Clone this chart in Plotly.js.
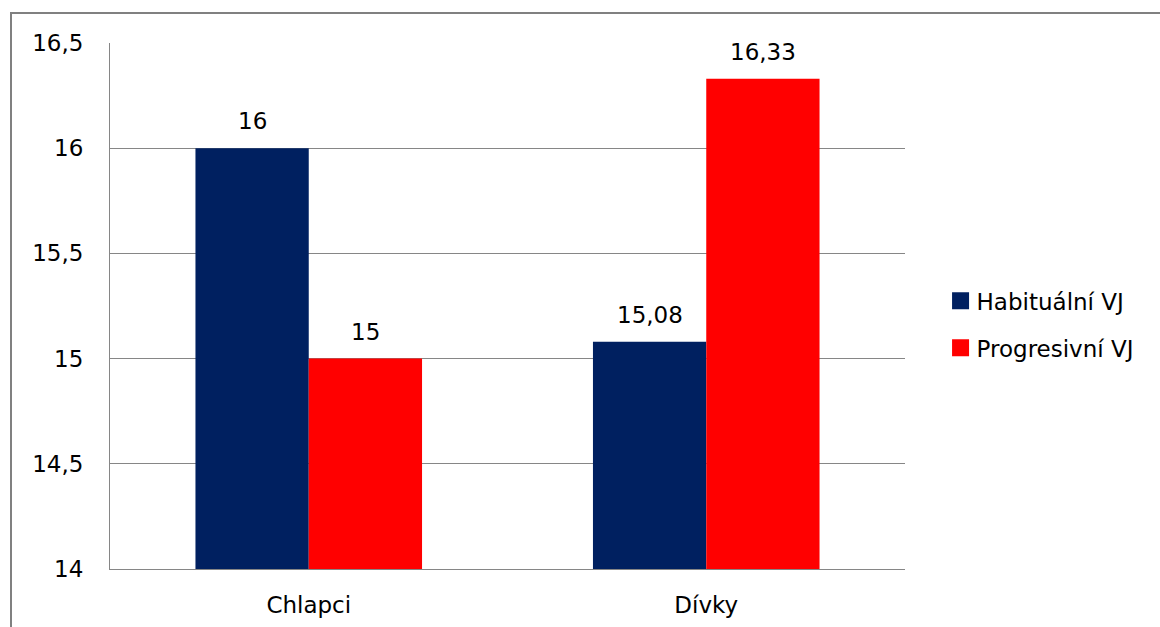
<!DOCTYPE html>
<html><head><meta charset="utf-8">
<script src="https://cdn.plot.ly/plotly-3.0.1.min.js"></script>
<style>
html,body{margin:0;padding:0;background:#fff;overflow:hidden;}
#wrap{position:relative;width:1160px;height:627px;overflow:hidden;}
#chart{position:absolute;left:0;top:0;width:1160px;height:627px;}
#frame{position:absolute;left:10px;top:12px;width:1200px;height:700px;border-top:2px solid #808080;border-left:2px solid #808080;pointer-events:none;}
</style></head>
<body><div id="wrap"><div id="chart"></div><div id="frame"></div></div>
<script>
const categories = ['Chlapci', 'Dívky'];
const seriesNames = ['Habituální VJ', 'Progresivní VJ'];
const habitualni = [16, 15.08];
const progresivni = [15, 16.33];
const yTicks = [14, 14.5, 15, 15.5, 16, 16.5];

const fontFam = 'DejaVu Sans, Verdana, sans-serif';
const fontSize = 23;
const colors = ['#002060', '#FF0000'];

const traces = [habitualni, progresivni].map((vals, i) => ({
  type: 'bar', x: categories, y: vals, name: seriesNames[i],
  marker: {color: colors[i], line: {width: 0}},
  offsetgroup: String(i), legendgroup: 'g' + i
}));

const fmt = v => String(v).replace('.', ',');
const annotations = [];
[habitualni, progresivni].forEach((vals, i) => {
  vals.forEach((v, j) => {
    annotations.push({
      x: categories[j], y: v, xref: 'x', yref: 'y', text: fmt(v),
      showarrow: false, yanchor: 'bottom', yshift: 12,
      xshift: (i === 0 ? -1 : 1) * 56.5,
      font: {family: fontFam, size: fontSize, color: '#000'}
    });
  });
});

const layout = {
  width: 1160, height: 627,
  margin: {l: 110, r: 255, t: 43, b: 58},
  paper_bgcolor: '#fff', plot_bgcolor: '#fff',
  separators: ', ',
  barmode: 'group', bargap: 0.43, bargroupgap: 0,
  showlegend: true,
  legend: {x: 1.0397, xanchor: 'left', y: 0.465, yanchor: 'middle',
    font: {family: fontFam, size: fontSize, color: '#000'}, tracegroupgap: 14,
    itemwidth: 30, traceorder: 'grouped'},
  xaxis: {type: 'category', showline: true, linecolor: '#868686', linewidth: 1,
    ticks: '', tickfont: {family: fontFam, size: fontSize, color: '#000'},
    ticklabelstandoff: 15, fixedrange: true},
  yaxis: {range: [14, 16.5], tickvals: yTicks, ticktext: yTicks.map(fmt),
    showgrid: true, gridcolor: '#868686', gridwidth: 1,
    showline: true, linecolor: '#868686', linewidth: 1, zeroline: false,
    ticks: '', tickfont: {family: fontFam, size: fontSize, color: '#000'},
    ticklabelstandoff: 21, fixedrange: true},
  annotations: annotations
};

Plotly.newPlot('chart', traces, layout, {displayModeBar: false, staticPlot: true}).then(() => {
  document.querySelectorAll('#chart .legend .legendpoints path').forEach(p => {
    p.setAttribute('d', 'M12.5,8.5H-4.5V-8.5H12.5Z');
    p.style.strokeWidth = '0';
  });
});
</script></body></html>
